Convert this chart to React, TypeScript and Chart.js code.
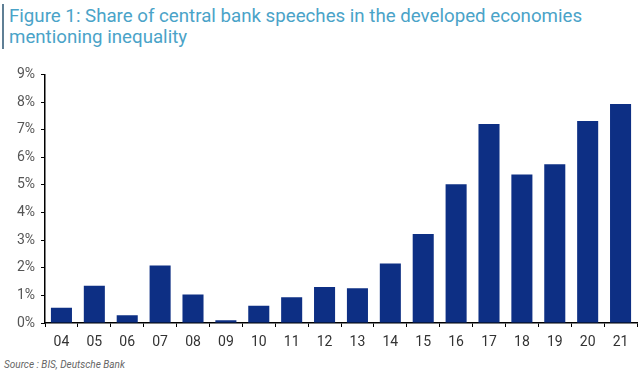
import React, { useEffect, useRef } from "react";
import { Chart, registerables } from "chart.js";

Chart.register(...registerables);

const categories = ["04", "05", "06", "07", "08", "09", "10", "11", "12", "13", "14", "15", "16", "17", "18", "19", "20", "21"];
const shareValues = [0.55, 1.35, 0.28, 2.08, 1.03, 0.1, 0.62, 0.93, 1.3, 1.26, 2.15, 3.22, 5.02, 7.2, 5.38, 5.75, 7.31, 7.93];
const yTicks = [0, 1, 2, 3, 4, 5, 6, 7, 8, 9];

const titleLines = ["Figure 1: Share of central bank speeches in the developed economies", "mentioning inequality"];
const sourceText = "Source : BIS, Deutsche Bank";

const FONT = "'Liberation Sans Narrow', 'Roboto', 'Liberation Sans', sans-serif";

export default function App() {
  const ref = useRef<HTMLCanvasElement | null>(null);

  useEffect(() => {
    if (!ref.current) return;
    const chart = new Chart(ref.current, {
      type: "bar",
      data: {
        labels: categories,
        datasets: [
          {
            data: shareValues,
            backgroundColor: "#0d2f84",
            borderColor: "#0d2f84",
            borderWidth: 0,
            categoryPercentage: 1,
            barPercentage: 0.64,
          },
        ],
      },
      options: {
        responsive: false,
        animation: false,
        maintainAspectRatio: false,
        layout: { padding: { top: 10, right: 3, left: 0, bottom: 0 } },
        plugins: {
          legend: { display: false },
          title: { display: false },
          tooltip: { enabled: false },
        },
        scales: {
          x: {
            grid: {
              display: true,
              drawOnChartArea: false,
              drawTicks: true,
              tickLength: 4,
              color: "#000",
              offset: true,
            },
            border: { display: true, color: "#000", width: 1.5 },
            ticks: {
              color: "#333",
              font: { family: FONT, size: 14 },
              padding: 7,
              maxRotation: 0,
              autoSkip: false,
            },
            afterFit: (scale: any) => {
              scale.height = 32;
            },
          },
          y: {
            min: 0,
            max: 9,
            afterBuildTicks: (scale: any) => {
              scale.ticks = yTicks.map((v) => ({ value: v }));
            },
            grid: {
              display: true,
              drawOnChartArea: false,
              drawTicks: true,
              tickLength: 4,
              color: "#000",
            },
            border: { display: true, color: "#000", width: 1.5 },
            ticks: {
              color: "#555",
              font: { family: FONT, size: 14 },
              padding: 6,
              callback: (v: any) => `${v}%`,
            },
            afterFit: (scale: any) => {
              scale.width = 45;
            },
          },
        },
      },
    });
    return () => chart.destroy();
  }, []);

  return (
    <div style={{ position: "absolute", left: 0, top: 0, width: 640, height: 372, background: "#fff", overflow: "hidden" }}>
      <div style={{ position: "absolute", left: 2, top: 4, width: 2, height: 45, background: "#5f7f95" }} />
      <div
        style={{
          position: "absolute",
          left: 9,
          top: 6,
          fontFamily: FONT,
          fontSize: 18.7,
          lineHeight: "21px",
          color: "#4aa3c8",
          whiteSpace: "nowrap",
        }}
      >
        <div>{titleLines[0]}</div>
        <div>{titleLines[1]}</div>
      </div>
      <canvas ref={ref} width={640} height={295} style={{ position: "absolute", left: 0, top: 60, width: 640, height: 295 }} />
      <div
        style={{
          position: "absolute",
          left: 4,
          top: 359,
          fontFamily: FONT,
          fontSize: 10,
          fontStyle: "italic",
          color: "#666",
          whiteSpace: "nowrap",
        }}
      >
        {sourceText}
      </div>
    </div>
  );
}
